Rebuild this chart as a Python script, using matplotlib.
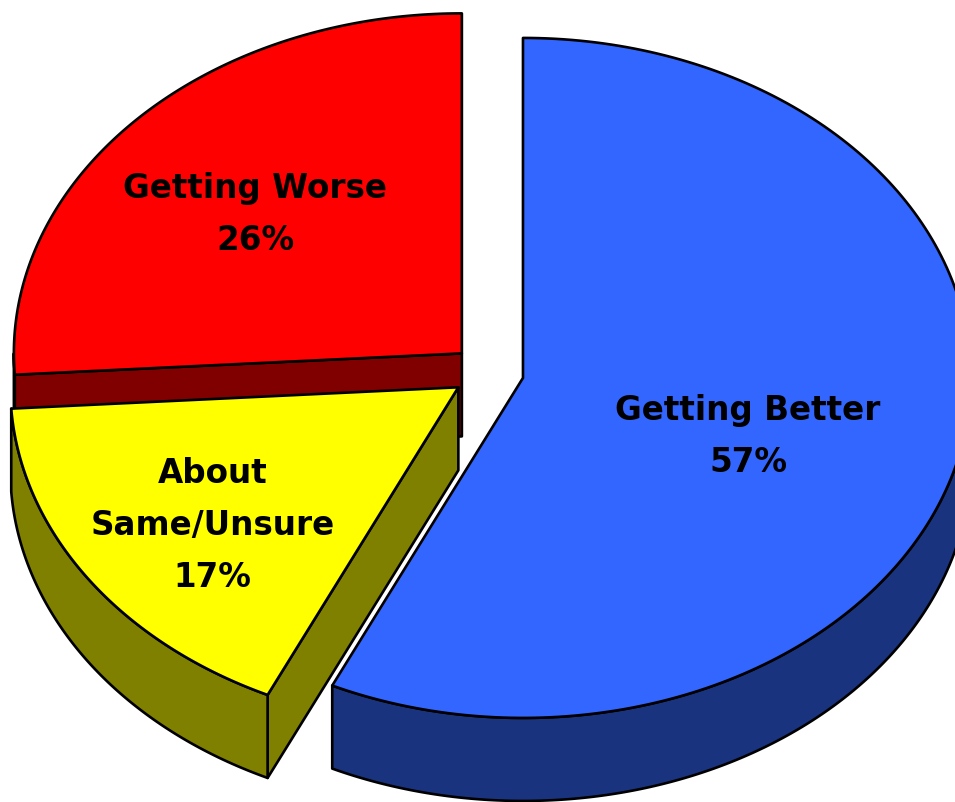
import numpy as np
import matplotlib
matplotlib.use("Agg")
import matplotlib.pyplot as plt
from matplotlib.patches import Polygon


# slices, clockwise from 12 o'clock
labels = ["Getting Better", "About\nSame/Unsure", "Getting Worse"]
values = [57, 17, 26]
top_colors = ["#3366FF", "#FFFF00", "#FF0000"]
side_colors = ["#1A337F", "#808000", "#800000"]

# layout of the tilted pie (pixel units)
CX, CY = 488, 373
A, B = 448, 340
DEPTH = 83
EXPLODE = 0.08
# label position as fraction of radius along the slice bisector (x, y)
LABEL_R = [(0.515, 0.78), (0.664, 0.717), (0.632, 0.6)]


def rim(cx, cy, t, dz=0):
    # t in degrees, clockwise from top
    r = np.radians(t)
    return cx + A * np.sin(r), cy - B * np.cos(r) + dz


def arc(cx, cy, t0, t1, dz=0, n=200):
    t = np.linspace(t0, t1, n)
    x, y = rim(cx, cy, t, dz)
    return np.column_stack([x, y])


def draw_pie(ax):
    total = sum(values)
    angles = np.cumsum([0] + [v / total * 360 for v in values])
    slices = []
    for i in range(len(values)):
        t0, t1 = angles[i], angles[i + 1]
        mid = (t0 + t1) / 2
        m = np.radians(mid)
        cx = CX + EXPLODE * A * np.sin(m)
        cy = CY - EXPLODE * B * np.cos(m)
        slices.append((i, t0, t1, mid, cx, cy))

    # back slices first
    slices.sort(key=lambda s: -np.cos(np.radians(s[3])))

    for i, t0, t1, mid, cx, cy in slices:
        walls = []
        # radial walls, only the ones facing the viewer
        if np.sin(np.radians(t0)) < -1e-6:
            p = rim(cx, cy, t0)
            walls.append([(cx, cy), p, (p[0], p[1] + DEPTH), (cx, cy + DEPTH)])
        if np.sin(np.radians(t1)) > 1e-6:
            p = rim(cx, cy, t1)
            walls.append([(cx, cy), p, (p[0], p[1] + DEPTH), (cx, cy + DEPTH)])
        # outer curved wall, front half only
        ta, tb = max(t0, 90), min(t1, 270)
        if tb > ta:
            top = arc(cx, cy, ta, tb)
            bot = arc(cx, cy, ta, tb, DEPTH)[::-1]
            walls.append(np.vstack([top, bot]))
        for w in walls:
            ax.add_patch(Polygon(w, closed=True, facecolor=side_colors[i],
                                 edgecolor="black", lw=1.9, joinstyle="round"))

        face = np.vstack([[(cx, cy)], arc(cx, cy, t0, t1)])
        ax.add_patch(Polygon(face, closed=True, facecolor=top_colors[i],
                             edgecolor="black", lw=1.9, joinstyle="round"))

        m = np.radians(mid)
        fx, fy = LABEL_R[i]
        lx = cx + fx * A * np.sin(m)
        ly = cy - fy * B * np.cos(m)
        ax.text(lx, ly, f"{labels[i]}\n{values[i]}%", ha="center", va="center",
                fontsize=23.5, fontweight="bold", family="DejaVu Sans",
                linespacing=1.72, color="black")


def main():
    fig = plt.figure(figsize=(9.55, 8.03), dpi=100)
    ax = fig.add_axes([0, 0, 1, 1])
    ax.set_xlim(0, 955)
    ax.set_ylim(803, 0)
    ax.axis("off")
    draw_pie(ax)
    fig.savefig("out.png", dpi=100, facecolor="white")


if __name__ == "__main__":
    main()
